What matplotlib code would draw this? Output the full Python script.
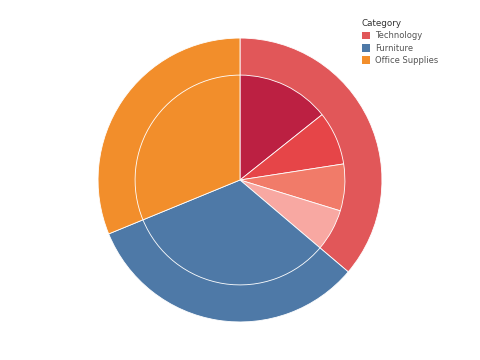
import matplotlib.pyplot as plt
from matplotlib.patches import Patch

# Datos (porcentaje del total)
categorias = ['Technology', 'Furniture', 'Office Supplies']
valores_cat = [36.2, 32.6, 31.2]
colores_cat = ['#E15759', '#4E79A7', '#F28E2B']

# Anillo interior: Technology dividido en subcategorías
valores_sub = [14.3, 8.25, 7.2, 6.45, 32.6, 31.2]
colores_sub = ['#BC2042', '#E64548', '#F17B69', '#F8A8A2', '#4E79A7', '#F28E2B']

fig = plt.figure(figsize=(4.8, 3.6), dpi=100)
ax = fig.add_axes([0, 0, 1, 1])

ax.pie(valores_cat, colors=colores_cat, radius=1.0, startangle=90,
       counterclock=False, wedgeprops=dict(edgecolor='white', linewidth=0.6))
ax.pie(valores_sub, colors=colores_sub, radius=0.739, startangle=90,
       counterclock=False, wedgeprops=dict(edgecolor='white', linewidth=0.6))

ax.set_xlim(-1.690, 1.690)
ax.set_ylim(-1.268, 1.268)
ax.set_aspect('equal')
ax.axis('off')

handles = [Patch(facecolor=c, edgecolor='none') for c in colores_cat]
leg = fig.legend(handles, categorias, title='Category', loc='upper left',
                 bbox_to_anchor=(0.738, 0.968), frameon=False, fontsize=6,
                 title_fontsize=6.3, handlelength=1.0, handleheight=1.0,
                 handletextpad=0.6, labelspacing=0.4, alignment='left')
for t in leg.get_texts():
    t.set_color('#555555')
leg.get_title().set_color('#333333')

fig.savefig('out.png', dpi=100)
